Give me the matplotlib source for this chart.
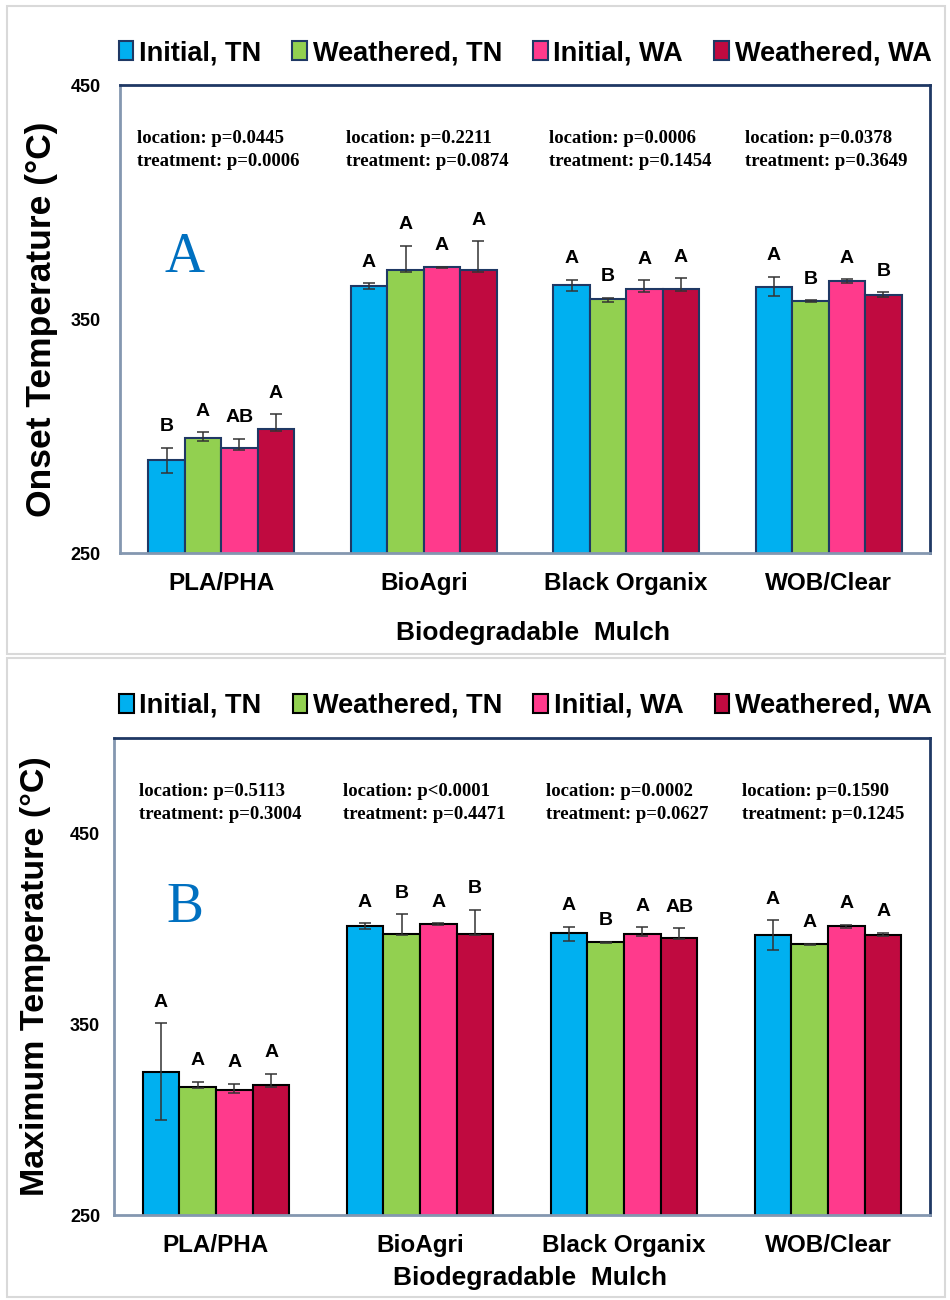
import matplotlib
matplotlib.use('Agg')
import matplotlib.pyplot as plt
import numpy as np
from matplotlib.patches import Rectangle, Patch

plt.rcParams['font.family'] = ['Liberation Sans', 'DejaVu Sans']
plt.rcParams['font.weight'] = 'bold'

# ---- data -------------------------------------------------------------
mulches = ['PLA/PHA', 'BioAgri', 'Black Organix', 'WOB/Clear']
series_names = ['Initial, TN', 'Weathered, TN', 'Initial, WA', 'Weathered, WA']
bar_colors = ['#00B0F0', '#92D050', '#FF3A8C', '#C00A40']

# panel A: onset temperature, one row per series (columns follow mulches)
onset = [[289.7, 364.1, 364.4, 363.8],
         [299.0, 370.9, 358.5, 357.8],
         [294.7, 372.1, 362.7, 366.2],
         [302.9, 370.9, 362.7, 360.3]]
onset_err_up = [[5.3, 1.2, 2.4, 4.3],
                [2.6, 10.4, 0.6, 0.3],
                [4.1, 0.3, 3.8, 0.7],
                [6.4, 12.5, 4.7, 1.2]]
onset_err_lo = [[5.6, 1.3, 2.6, 4.1],
                [1.1, 0.7, 1.4, 0.4],
                [0.7, 0.5, 1.3, 1.0],
                [0.7, 0.7, 0.9, 1.0]]
onset_letters = [['B', 'A', 'A', 'A'],
                 ['A', 'A', 'B', 'B'],
                 ['AB', 'A', 'A', 'A'],
                 ['A', 'A', 'A', 'B']]
onset_loc_p = ['p=0.0445', 'p=0.2211', 'p=0.0006', 'p=0.0378']
onset_trt_p = ['p=0.0006', 'p=0.0874', 'p=0.1454', 'p=0.3649']

# panel B: maximum temperature
maxt = [[324.7, 401.3, 397.6, 396.6],
        [316.9, 397.5, 392.9, 391.9],
        [315.4, 402.7, 397.1, 401.3],
        [318.1, 397.5, 395.4, 397.0]]
maxt_err_up = [[26.0, 1.7, 3.5, 8.0],
               [2.9, 10.0, 0.3, 0.3],
               [3.5, 0.4, 3.8, 0.8],
               [5.9, 12.6, 4.9, 1.0]]
maxt_err_lo = [[25.1, 1.2, 3.8, 7.7],
               [0.5, 1.0, 0.5, 0.4],
               [1.2, 0.7, 1.0, 0.8],
               [1.0, 1.0, 1.0, 1.0]]
maxt_letters = [['A', 'A', 'A', 'A'],
                ['A', 'B', 'B', 'A'],
                ['A', 'A', 'A', 'A'],
                ['A', 'B', 'AB', 'A']]
maxt_loc_p = ['p=0.5113', 'p<0.0001', 'p=0.0002', 'p=0.1590']
maxt_trt_p = ['p=0.3004', 'p=0.4471', 'p=0.0627', 'p=0.1245']


def draw_panel(ax, values, err_lo, err_up, letters, loc_p, trt_p, ylim, yticks,
               edge, ylabel, ylabel_size, panel_letter, p_xpos, p_ypos,
               letter_pos, ytick_pad, ylabel_x, xlabel_y, legend_x):
    x = np.arange(len(mulches))
    width = 0.18
    for i, name in enumerate(series_names):
        xs = x + (i - 1.5) * width
        ax.bar(xs, values[i], width, color=bar_colors[i], edgecolor=edge,
               linewidth=1.5, zorder=2)
        ax.errorbar(xs, values[i], yerr=[err_lo[i], err_up[i]], fmt='none',
                    ecolor='#333333', elinewidth=1.1, capsize=4, capthick=1.1,
                    zorder=3)
        for j in range(len(mulches)):
            ax.annotate(letters[i][j], xy=(xs[j], values[i][j] + err_up[i][j]),
                        xytext=(0, 15), textcoords='offset points',
                        ha='center', va='center', fontsize=14,
                        fontweight='bold', color='black')

    ax.set_xlim(-0.5, len(mulches) - 0.5)
    ax.set_ylim(*ylim)
    ax.set_yticks(yticks)
    ax.set_xticks(x)
    ax.set_xticklabels(mulches, fontsize=17.5, fontweight='bold')
    ax.tick_params(axis='x', length=0, pad=14)
    ax.tick_params(axis='y', length=0, pad=ytick_pad, labelsize=13)

    ax.spines['top'].set_color('#1F3864')
    ax.spines['right'].set_color('#1F3864')
    ax.spines['left'].set_color('#8497B0')
    ax.spines['bottom'].set_color('#8497B0')
    for s in ax.spines.values():
        s.set_linewidth(2)

    ax.set_ylabel(ylabel, fontsize=ylabel_size, fontweight='bold')
    ax.yaxis.set_label_coords(ylabel_x, 0.5)
    ax.set_xlabel('Biodegradable  Mulch', fontsize=19, fontweight='bold')
    ax.xaxis.set_label_coords(0.51, xlabel_y)

    for j in range(len(mulches)):
        ax.text(p_xpos[j], p_ypos,
                'location: ' + loc_p[j] + '\ntreatment: ' + trt_p[j],
                transform=ax.transAxes, ha='left', va='center',
                family=['Liberation Serif', 'DejaVu Serif'], fontsize=13.5,
                fontweight='bold', linespacing=1.45)

    ax.text(letter_pos[0], letter_pos[1], panel_letter, transform=ax.transAxes,
            ha='center', va='center', family=['Liberation Serif', 'DejaVu Serif'],
            fontweight='normal', fontsize=40, color='#0070C0')

    handles = [Patch(facecolor=c, edgecolor=edge, linewidth=1.5)
               for c in bar_colors]
    ax.legend(handles, series_names, loc='center',
              bbox_to_anchor=(legend_x, 1.068), ncol=4, frameon=False,
              prop={'size': 19.5, 'weight': 'bold'}, handlelength=0.55,
              handleheight=0.7, handletextpad=0.2, columnspacing=1.15)


fig = plt.figure(figsize=(9.5, 13), dpi=100)

# outer light grey frames around each chart
fig.add_artist(Rectangle((7 / 950, 1 - 654 / 1300), 938 / 950, 648 / 1300,
                         transform=fig.transFigure, fill=False,
                         edgecolor='#D9D9D9', linewidth=1.5))
fig.add_artist(Rectangle((7 / 950, 1 - 1297 / 1300), 938 / 950, 639 / 1300,
                         transform=fig.transFigure, fill=False,
                         edgecolor='#D9D9D9', linewidth=1.5))

ax1 = fig.add_axes([120 / 950, 1 - 553 / 1300, 810 / 950, 468 / 1300])
draw_panel(ax1, onset, onset_err_lo, onset_err_up, onset_letters,
           onset_loc_p, onset_trt_p, (250, 450), [250, 350, 450], '#1F3864',
           'Onset Temperature (°C)', 25.5, 'A',
           [0.021, 0.279, 0.530, 0.772], 0.861, (0.080, 0.630),
           14, -0.076, -0.145, 0.5)

ax2 = fig.add_axes([114 / 950, 1 - 1215 / 1300, 816 / 950, 477 / 1300])
draw_panel(ax2, maxt, maxt_err_lo, maxt_err_up, maxt_letters,
           maxt_loc_p, maxt_trt_p, (250, 500), [250, 350, 450], '#000000',
           'Maximum Temperature (°C)', 24.5, 'B',
           [0.031, 0.281, 0.530, 0.770], 0.864, (0.087, 0.644),
           10, -0.077, -0.107, 0.504)

fig.savefig('out.png', dpi=100)
